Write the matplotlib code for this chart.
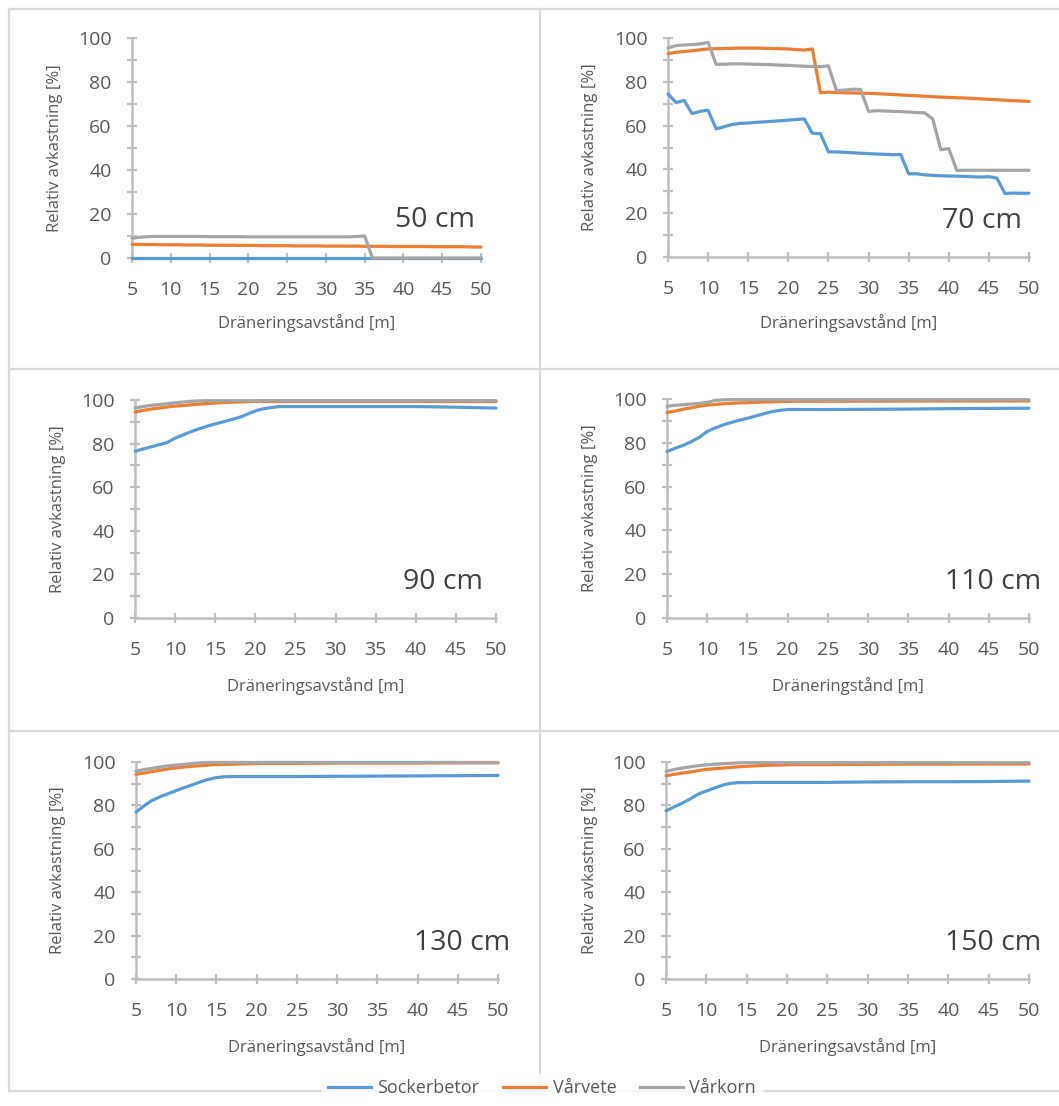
import matplotlib
matplotlib.use("Agg")
import matplotlib.pyplot as plt
from matplotlib.lines import Line2D
from matplotlib.ticker import MultipleLocator

plt.rcParams["font.family"] = ["Open Sans", "DejaVu Sans"]

W, H = 1059, 1106

CROPS = ["Sockerbetor", "Vårvete", "Vårkorn"]
COLORS = ["#5b9bd5", "#ed7d31", "#a5a5a5"]

# drainage spacing, one value per metre (50 cm and 70 cm depth)
DIST_FULL = list(range(5, 51))
# coarser spacing for the smooth curves (90-150 cm depth)
DIST_SPARSE = [5, 6, 7, 8, 9, 10, 11, 12, 13, 14, 15, 16, 17, 18, 19, 20,
               21, 22, 23, 24, 25, 30, 35, 40, 45, 50]

# 50 cm
SB_50 = [0.0] * 46
VV_50 = [6.2, 6.2, 6.1, 6.1, 6.0, 6.0, 6.0, 5.9, 5.9, 5.9, 5.8, 5.8, 5.8, 5.8, 5.7, 5.7,
         5.7, 5.6, 5.6, 5.6, 5.6, 5.5, 5.5, 5.5, 5.5, 5.4, 5.4, 5.4, 5.4, 5.4, 5.3, 5.3,
         5.3, 5.3, 5.2, 5.2, 5.2, 5.2, 5.2, 5.1, 5.1, 5.1, 5.1, 5.1, 5.0, 5.0]
VK_50 = [9.0, 9.4, 9.7, 9.8, 9.8, 9.8, 9.8, 9.8, 9.8, 9.8, 9.7, 9.7, 9.7, 9.7, 9.7, 9.6,
         9.6, 9.6, 9.6, 9.6, 9.6, 9.6, 9.6, 9.6, 9.6, 9.6, 9.6, 9.6, 9.6, 9.8, 10.0, 0.0,
         0.0, 0.0, 0.0, 0.0, 0.0, 0.0, 0.0, 0.0, 0.0, 0.0, 0.0, 0.0, 0.0, 0.0]

# 70 cm
SB_70 = [74.5, 70.5, 71.5, 65.5, 66.5, 67.0, 58.5, 59.5, 60.5, 61.0, 61.2, 61.5, 61.7,
         62.0, 62.2, 62.5, 62.8, 63.0, 56.5, 56.3, 48.0, 48.0, 47.8, 47.6, 47.4, 47.2,
         47.0, 46.9, 46.7, 46.8, 38.0, 38.0, 37.5, 37.3, 37.1, 37.0, 36.9, 36.8, 36.6,
         36.5, 36.7, 36.0, 29.0, 29.2, 29.1, 29.1]
VV_70 = [92.8, 93.5, 93.8, 94.2, 94.6, 95.0, 95.1, 95.2, 95.3, 95.4, 95.4, 95.4, 95.3,
         95.2, 95.1, 95.0, 94.7, 94.5, 95.0, 75.0, 75.3, 75.1, 75.0, 74.9, 74.8, 74.7,
         74.6, 74.4, 74.2, 74.0, 73.8, 73.6, 73.4, 73.2, 73.0, 72.9, 72.7, 72.6, 72.4,
         72.2, 72.0, 71.8, 71.6, 71.4, 71.2, 71.0]
VK_70 = [95.5, 96.5, 96.8, 97.0, 97.3, 98.0, 88.0, 88.0, 88.2, 88.2, 88.1, 88.0, 87.9,
         87.8, 87.6, 87.5, 87.3, 87.1, 87.0, 86.9, 87.3, 76.0, 76.2, 76.6, 76.5, 66.5,
         66.8, 66.7, 66.5, 66.4, 66.2, 66.0, 65.8, 63.0, 49.0, 49.5, 39.5, 39.6, 39.6,
         39.6, 39.6, 39.6, 39.6, 39.6, 39.6, 39.6]

# 90 cm
SB_90 = [76.5, 77.5, 78.5, 79.5, 80.5, 82.5, 84.0, 85.5, 86.8, 88.0, 89.0, 90.0, 91.0,
         92.0, 93.5, 95.0, 96.0, 96.5, 97.0, 97.0, 97.0, 97.0, 97.0, 97.0, 96.7, 96.3]
VV_90 = [94.5, 95.2, 95.8, 96.3, 96.8, 97.2, 97.5, 97.8, 98.1, 98.4, 98.6, 98.8, 99.0,
         99.1, 99.2, 99.3, 99.3, 99.3, 99.3, 99.3, 99.3, 99.3, 99.3, 99.3, 99.3, 99.3]
VK_90 = [96.3, 97.0, 97.5, 97.9, 98.3, 98.7, 99.1, 99.4, 99.6, 99.7, 99.7, 99.7, 99.7,
         99.7, 99.7, 99.7, 99.7, 99.7, 99.7, 99.7, 99.7, 99.7, 99.7, 99.7, 99.7, 99.7]

# 110 cm
SB_110 = [76.0, 77.5, 78.8, 80.5, 82.5, 85.2, 86.8, 88.2, 89.3, 90.3, 91.2, 92.2, 93.2,
          94.2, 94.8, 95.2, 95.2, 95.2, 95.2, 95.2, 95.2, 95.3, 95.4, 95.6, 95.7, 95.8]
VV_110 = [93.8, 94.5, 95.3, 96.0, 96.7, 97.2, 97.5, 97.8, 98.0, 98.2, 98.3, 98.5, 98.6,
          98.7, 98.8, 98.9, 99.0, 99.0, 99.0, 99.0, 99.0, 99.0, 99.1, 99.1, 99.1, 99.1]
VK_110 = [96.7, 97.1, 97.4, 97.7, 98.0, 98.4, 99.4, 99.6, 99.7, 99.7, 99.7, 99.7, 99.7,
          99.7, 99.7, 99.7, 99.7, 99.7, 99.7, 99.7, 99.7, 99.7, 99.7, 99.7, 99.7, 99.7]

# 130 cm
SB_130 = [76.9, 79.8, 82.3, 84.0, 85.4, 86.8, 88.2, 89.5, 90.8, 92.0, 92.8, 93.2, 93.3,
          93.3, 93.3, 93.3, 93.3, 93.3, 93.3, 93.3, 93.3, 93.4, 93.5, 93.6, 93.7, 93.8]
VV_130 = [94.3, 94.9, 95.6, 96.2, 96.8, 97.3, 97.7, 98.0, 98.3, 98.6, 98.8, 98.9, 99.0,
          99.1, 99.2, 99.3, 99.4, 99.4, 99.4, 99.4, 99.4, 99.5, 99.5, 99.5, 99.6, 99.6]
VK_130 = [95.8, 96.5, 97.1, 97.7, 98.2, 98.6, 98.9, 99.3, 99.6, 99.8, 99.8, 99.8, 99.8,
          99.8, 99.8, 99.8, 99.8, 99.8, 99.8, 99.8, 99.8, 99.8, 99.8, 99.8, 99.8, 99.8]

# 150 cm
SB_150 = [77.5, 79.3, 81.0, 83.0, 85.2, 86.6, 88.0, 89.3, 90.2, 90.5, 90.5, 90.6, 90.6,
          90.6, 90.6, 90.6, 90.6, 90.6, 90.6, 90.6, 90.6, 90.8, 90.9, 90.9, 91.0, 91.2]
VV_150 = [93.7, 94.3, 94.9, 95.4, 96.0, 96.6, 96.9, 97.2, 97.5, 97.8, 98.0, 98.2, 98.4,
          98.5, 98.6, 98.7, 98.8, 98.8, 98.8, 98.8, 98.8, 98.9, 99.0, 99.0, 99.1, 99.1]
VK_150 = [95.7, 96.5, 97.2, 97.8, 98.3, 98.7, 99.0, 99.2, 99.4, 99.6, 99.7, 99.7, 99.7,
          99.7, 99.7, 99.7, 99.7, 99.7, 99.7, 99.7, 99.7, 99.7, 99.7, 99.7, 99.7, 99.7]

DEPTH_LABELS = ["50 cm", "70 cm", "90 cm", "110 cm", "130 cm", "150 cm"]
X_LABELS = ["Dräneringsavstånd [m]", "Dräneringsavstånd [m]", "Dräneringsavstånd [m]",
            "Dräneringstånd [m]", "Dräneringsavstånd [m]", "Dräneringsavstånd [m]"]
Y_LABEL = "Relativ avkastning [%]"

panels = [
    (DIST_FULL, [SB_50, VV_50, VK_50]),
    (DIST_FULL, [SB_70, VV_70, VK_70]),
    (DIST_SPARSE, [SB_90, VV_90, VK_90]),
    (DIST_SPARSE, [SB_110, VV_110, VK_110]),
    (DIST_SPARSE, [SB_130, VV_130, VK_130]),
    (DIST_SPARSE, [SB_150, VV_150, VK_150]),
]

# plot boxes in pixels: left, right, top (y=100), bottom (y=0)
BOXES = [
    (132, 481, 38, 258),
    (668, 1029, 38, 257),
    (135, 496, 400, 618),
    (667, 1029, 399, 618),
    (136, 498, 762, 979),
    (666, 1029, 762, 979),
]
# depth label: right edge x, baseline y (pixels)
DEPTH_POS = [(475, 227), (1022, 228), (483, 589), (1041, 589), (510, 950), (1041, 950)]
XLABEL_Y = [323, 323, 686, 686, 1047, 1047]
YLABEL_X = [55, 590, 58, 590, 58, 590]

AXIS_GRAY = "#bfbfbf"
TEXT_GRAY = "#595959"
BORDER = "#d9d9d9"

fig = plt.figure(figsize=(W / 100, H / 100), dpi=100)


def fx(px):
    return px / W


def fy(py):
    return 1 - py / H


# panel frames
frame = dict(color=BORDER, lw=1.6, transform=fig.transFigure, zorder=0)
fig.add_artist(Line2D([fx(9), fx(W)], [fy(9), fy(9)], **frame))
fig.add_artist(Line2D([fx(9), fx(W)], [fy(1091), fy(1091)], **frame))
fig.add_artist(Line2D([fx(9), fx(9)], [fy(9), fy(1091)], **frame))
fig.add_artist(Line2D([fx(540), fx(540)], [fy(9), fy(1091)], **frame))
fig.add_artist(Line2D([fx(9), fx(W)], [fy(369), fy(369)], **frame))
fig.add_artist(Line2D([fx(9), fx(W)], [fy(731), fy(731)], **frame))

for i, ((dist, series), (l, r, t, b)) in enumerate(zip(panels, BOXES)):
    ax = fig.add_axes([fx(l), fy(b), (r - l) / W, (b - t) / H])
    for vals, color, name in zip(series, COLORS, CROPS):
        ax.plot(dist, vals, color=color, lw=2.3, solid_capstyle="round",
                solid_joinstyle="round", clip_on=False, label=name)
    ax.set_xlim(5, 50)
    ax.set_ylim(0, 100)
    ax.xaxis.set_major_locator(MultipleLocator(5))
    ax.yaxis.set_major_locator(MultipleLocator(20))
    ax.yaxis.set_minor_locator(MultipleLocator(10))
    for side in ["top", "right"]:
        ax.spines[side].set_visible(False)
    for side in ["left", "bottom"]:
        ax.spines[side].set_color(AXIS_GRAY)
        ax.spines[side].set_linewidth(1.8)
        ax.spines[side].set_zorder(0.5)
    ax.tick_params(which="both", direction="inout", length=7.5, width=1.6,
                   color=AXIS_GRAY, labelcolor=TEXT_GRAY, labelsize=14)
    ax.tick_params(axis="x", pad=13)
    ax.tick_params(axis="y", pad=11)
    ax.set_facecolor("none")

    xr, yb = DEPTH_POS[i]
    fig.text(fx(xr), fy(yb), DEPTH_LABELS[i], ha="right", va="baseline",
             fontsize=20.5, color="#404040")
    fig.text(fx((l + r) / 2), fy(XLABEL_Y[i]), X_LABELS[i], ha="center", va="center",
             fontsize=12, color=TEXT_GRAY)
    fig.text(fx(YLABEL_X[i]), fy((t + b) / 2), Y_LABEL, ha="center", va="center",
             rotation=90, fontsize=12, color=TEXT_GRAY)

handles = [Line2D([], [], color=c, lw=2.3) for c in COLORS]
leg = fig.legend(handles, CROPS, loc="center", bbox_to_anchor=(fx(542), fy(1088)),
                 ncol=3, frameon=True, fontsize=13, handlelength=2.4,
                 handletextpad=0.35, columnspacing=1.3, borderpad=0.3,
                 fancybox=False)
leg.get_frame().set_facecolor("white")
leg.get_frame().set_edgecolor("white")
for txt in leg.get_texts():
    txt.set_color(TEXT_GRAY)

fig.savefig("out.png", dpi=100, facecolor="white")
